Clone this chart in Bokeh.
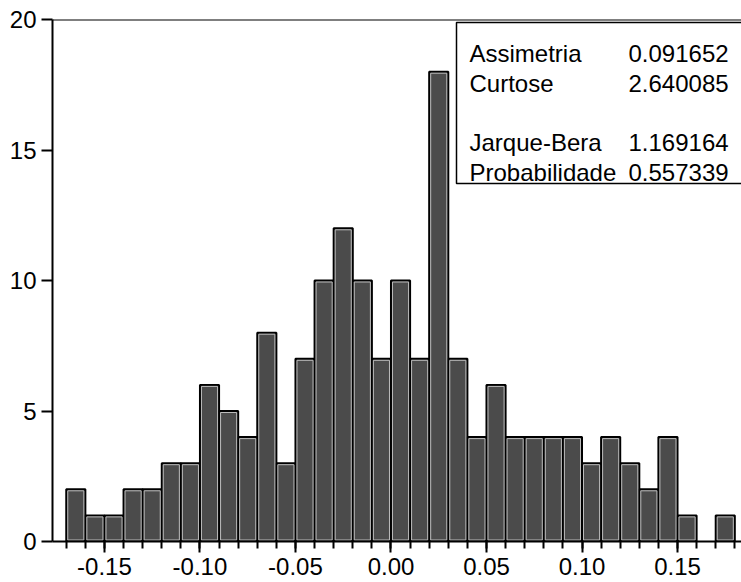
from bokeh.plotting import figure
from bokeh.models import Range1d, FixedTicker, Span, PrintfTickFormatter
from bokeh.core.properties import value
from bokeh.embed import file_html
from bokeh.resources import INLINE

# ---- data ----
bin_left = [-0.17, -0.16, -0.15, -0.14, -0.13, -0.12, -0.11, -0.10, -0.09, -0.08,
            -0.07, -0.06, -0.05, -0.04, -0.03, -0.02, -0.01, 0.00, 0.01, 0.02,
            0.03, 0.04, 0.05, 0.06, 0.07, 0.08, 0.09, 0.10, 0.11, 0.12,
            0.13, 0.14, 0.15, 0.16, 0.17]
counts = [2, 1, 1, 2, 2, 3, 3, 6, 5, 4,
          8, 3, 7, 10, 12, 10, 7, 10, 7, 18,
          7, 4, 6, 4, 4, 4, 4, 3, 4, 3,
          2, 4, 1, 0, 1]
bin_width = 0.01
x_major_ticks = [-0.15, -0.10, -0.05, 0.00, 0.05, 0.10, 0.15]
y_major_ticks = [0, 5, 10, 15, 20]
stat_labels = ["Assimetria", "Curtose", "", "Jarque-Bera", "Probabilidade"]
stat_values = ["0.091652", "2.640085", "", "1.169164", "0.557339"]

FONT = "Liberation Sans"

# ---- layout (page pixels) ----
W, H = 741, 582
FL, FR, FT, FB = 52, 741, 19, 541
x0, x1 = -0.1772, 0.1835
y0, y1 = 0, 20
px_x = (x1 - x0) / (FR - FL)
px_y = (y1 - y0) / (FB - FT)

p = figure(width=W, height=H, output_backend="svg", toolbar_location=None,
           x_range=Range1d(x0, x1), y_range=Range1d(y0, y1),
           min_border_left=FL, min_border_right=W - FR,
           min_border_top=FT, min_border_bottom=H - FB)
p.outline_line_color = None
p.grid.visible = False
p.background_fill_color = "white"
p.border_fill_color = "white"

lefts = [b for b, c in zip(bin_left, counts) if c > 0]
rights = [b + bin_width for b, c in zip(bin_left, counts) if c > 0]
tops = [c for c in counts if c > 0]

p.quad(left=lefts, right=rights, top=tops, bottom=0,
       fill_color="#4b4b4b", line_color="black", line_width=2)
ins_x, ins_y = 1.5 * px_x, 1.5 * px_y
p.quad(left=[l + ins_x for l in lefts], right=[r - ins_x for r in rights],
       top=[t - ins_y for t in tops], bottom=ins_y,
       fill_color=None, line_color="#bcbcbc", line_width=1)

# axes
xa = p.xaxis[0]
xa.ticker = FixedTicker(ticks=x_major_ticks,
                        minor_ticks=[round(b, 2) for b in bin_left] + [0.18])
xa.formatter = PrintfTickFormatter(format="%.2f")
ya = p.yaxis[0]
ya.ticker = FixedTicker(ticks=y_major_ticks)
for ax in (xa, ya):
    ax.axis_line_width = 2
    ax.axis_line_color = "black"
    ax.major_tick_line_width = 2
    ax.major_tick_line_color = "black"
    ax.major_tick_in = 0
    ax.minor_tick_in = 0
    ax.major_label_text_font = FONT
    ax.major_label_text_font_size = "24px"
    ax.major_label_text_color = "black"
xa.major_tick_out = 11
xa.minor_tick_out = 7
xa.minor_tick_line_width = 2
xa.minor_tick_line_color = "black"
xa.major_label_standoff = 5
ya.major_tick_out = 11
ya.minor_tick_line_color = None
ya.major_label_standoff = 5

p.add_layout(Span(location=20, dimension="width", line_color="black", line_width=2))

# statistics box
box_left = x0 + (456 - FL) * px_x
box_top = y1 - (22 - FT) * px_y
box_bottom = y1 - (183 - FT) * px_y
p.quad(left=[box_left], right=[x1 + 0.05], top=[box_top], bottom=[box_bottom],
       fill_color="white", line_color="black", line_width=1.5)

lab_x = x0 + (469 - FL) * px_x
val_x = x0 + (628 - FL) * px_x
baselines_px = [53.3, 82.7, 112.2, 141.7, 171.7]
ys = [y1 - (b - FT) * px_y for b in baselines_px]
p.text(x=[lab_x] * 5, y=ys, text=stat_labels, text_font=value(FONT),
       text_font_size="24px", text_baseline="alphabetic", text_color="black")
p.text(x=[val_x] * 5, y=ys, text=stat_values, text_font=value(FONT),
       text_font_size="24px", text_baseline="alphabetic", text_color="black")

open("out.html", "w").write(file_html(p, INLINE))
